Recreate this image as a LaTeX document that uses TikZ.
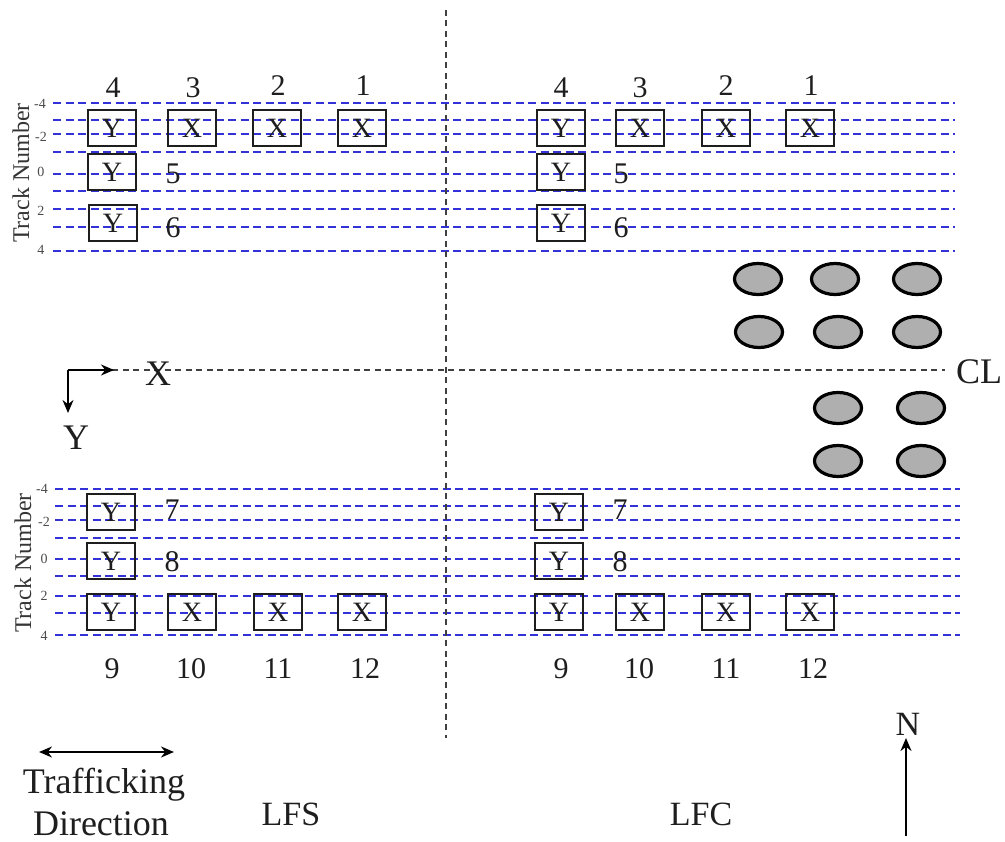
\documentclass[tikz,border=0pt]{standalone}
\usepackage{fontspec}
\setmainfont{Liberation Serif}
\usetikzlibrary{shapes.geometric,arrows.meta}
\definecolor{trackblue}{RGB}{50,50,215}
\definecolor{inkgray}{RGB}{30,30,30}
\definecolor{pier}{RGB}{175,175,175}
\tikzset{
  track/.style={draw=trackblue,line width=2.3pt,dash pattern=on 8pt off 4.5pt},
  guide/.style={draw=inkgray!85,line width=2pt,dash pattern=on 6pt off 4.5pt},
  gauge/.style={draw=inkgray,line width=2pt,minimum width=48pt,minimum height=36pt,inner sep=0pt,font=\fontsize{28}{28}\selectfont,text=inkgray},
  num/.style={inner sep=0pt,font=\fontsize{30}{30}\selectfont,text=inkgray},
  big/.style={inner sep=0pt,font=\fontsize{36}{38}\selectfont,text=inkgray},
  lane/.style={inner sep=0pt,font=\fontsize{34}{34}\selectfont,text=inkgray},
  tick/.style={inner sep=0pt,font=\fontsize{14}{14}\selectfont,text=inkgray!80},
  axis/.style={inner sep=0pt,rotate=90,font=\fontsize{24}{24}\selectfont,text=inkgray!90},
  pierhole/.style={ellipse,draw=black,line width=3.2pt,fill=pier,minimum width=47pt,minimum height=31pt,inner sep=0pt},
  arrowline/.style={draw=black,line width=2pt,-{Stealth[length=13pt,width=11pt]}},
  bothline/.style={draw=black,line width=2pt,{Stealth[length=13pt,width=11pt]}-{Stealth[length=13pt,width=11pt]}}
}
\begin{document}
\begin{tikzpicture}[x=1pt,y=-1pt]
\useasboundingbox (0,0) rectangle (1005,842);
% track lines
\foreach \y in {103,120,134,152,174,191,209,227,251}{
  \coordinate (tl\y) at (53,\y); \coordinate (tr\y) at (955,\y);
  \draw[track] (tl\y) -- (tr\y);}
\foreach \y in {489,506,520,538,559,576,596,613,635}{
  \coordinate (bl\y) at (55,\y); \coordinate (br\y) at (960,\y);
  \draw[track] (bl\y) -- (br\y);}
% centre lines
\coordinate (vt) at (446,10); \coordinate (vb) at (446,738);
\coordinate (hl) at (112,370); \coordinate (hr) at (945,370);
\draw[guide] (vt) -- (vb);
\draw[guide] (hl) -- (hr);
% gauges: name / x / y / letter / letter drop
\foreach \n/\x/\y/\l/\d in {a4/112/128/Y/2,a3/192/128/X/2,a2/277/128/X/2,a1/362/128/X/2,a5/112/172/Y/3,a6/113/223/Y/3,
  c4/561/128/Y/2,c3/640/128/X/2,c2/726/128/X/2,c1/810/128/X/2,c5/561/172/Y/3,c6/561/223/Y/3,
  b7/111/512/Y/6,b8/111/561/Y/3,b9/111/612/Y/2,b10/192/612/X/2,b11/278/612/X/2,b12/362/612/X/2,
  d7/559/512/Y/6,d8/559/561/Y/3,d9/559/612/Y/2,d10/640/612/X/2,d11/726/612/X/2,d12/810/612/X/2}{
  \node[gauge] (\n) at (\x,\y) {\raisebox{-\d pt}{\l}};}
% gauge numbers
\foreach \n/\x/\y/\l in {na4/113/88/4,na3/193/88/3,na2/278/86/2,na1/363/86/1,na5/173/174/5,na6/173/228/6,
  nc4/561/88/4,nc3/640/88/3,nc2/726/86/2,nc1/811/86/1,nc5/621/174/5,nc6/621/228/6,
  nb7/172/510/7,nb8/172/562/8,nb9/112/669/9,nb10/191/669/10,nb11/278/669/11,nb12/365/669/12,
  nd7/620/510/7,nd8/620/562/8,nd9/561/669/9,nd10/639/669/10,nd11/726/669/11,nd12/813/669/12}{
  \node[num] (\n) at (\x,\y) {\l};}
% tick labels
\foreach \n/\x/\y/\l in {t1/40/104/-4,t2/41/137/-2,t3/41/172/0,t4/41/211/2,t5/41/250/4,
  t6/42/489/-4,t7/44/522/-2,t8/44/559/0,t9/44/596/2,t10/44/636/4}{
  \node[tick] (\n) at (\x,\y) {\l};}
\node[axis] (tn1) at (21,173) {Track Number};
\node[axis] (tn2) at (23,563) {Track Number};
% pier ellipses
\foreach \n/\x/\y in {p1/758/279,p2/835/279,p3/917/279,p4/759/332,p5/838/332,p6/917/332,
  p7/838/408,p8/921/408,p9/838/461,p10/921/461}{
  \node[pierhole] (\n) at (\x,\y) {};}
% axes
\coordinate (o) at (68,370);
\coordinate (ox) at (114,370);
\coordinate (oy) at (68,413);
\draw[arrowline] (o) -- (ox);
\draw[arrowline] (o) -- (oy);
\node[big] (xl) at (158,374) {X};
\node[big] (yl) at (76,438) {Y};
\node[big] (cl) at (979,372) {CL};
% direction
\coordinate (da) at (39,752); \coordinate (db) at (174,752);
\draw[bothline] (da) -- (db);
\node[big] (traf) at (104,785) {Trafficking};
\node[big] (dir) at (101,824) {Direction};
\node[lane] (lfs) at (291,814) {LFS};
\node[lane] (lfc) at (701,814) {LFC};
\node[lane] (north) at (908,724) {N};
\coordinate (na) at (906,836); \coordinate (nb) at (906,738);
\draw[arrowline] (na) -- (nb);
\end{tikzpicture}
\end{document}
